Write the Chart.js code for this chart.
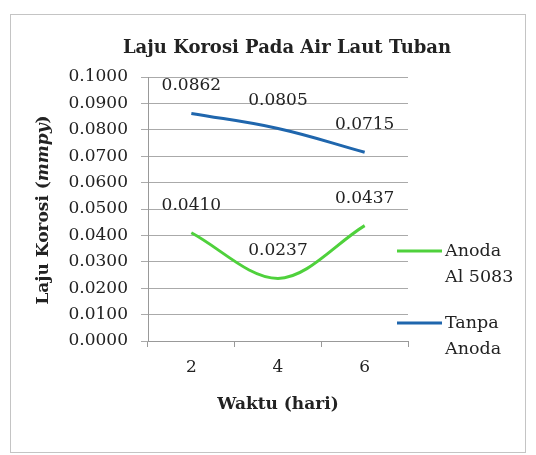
<!DOCTYPE html>
<html><head><meta charset="utf-8">
<script src="https://cdn.jsdelivr.net/npm/chart.js@4"></script>
<style>html,body{margin:0;padding:0;background:#fff;}#wrap{width:536px;height:455px;position:relative;}</style>
</head><body><div id="wrap"><canvas id="c" width="536" height="455"></canvas></div>
<script>
const categories = ['2', '4', '6'];
const anodaAl = [0.0410, 0.0237, 0.0437];
const tanpaAnoda = [0.0862, 0.0805, 0.0715];
const yTicks = [0, 0.01, 0.02, 0.03, 0.04, 0.05, 0.06, 0.07, 0.08, 0.09, 0.10];
const seriesNames = [['Anoda', 'Al 5083'], ['Tanpa', 'Anoda']];
const titleText = 'Laju Korosi Pada Air Laut Tuban';
const xTitle = 'Waktu (hari)';

const FONT = '"DejaVu Serif", "Liberation Serif", serif';
const GREEN = '#4fd13c', BLUE = '#1f66ad';

const deco = {
  id: 'deco',
  beforeDraw(chart) {
    const ctx = chart.ctx;
    ctx.save();
    ctx.strokeStyle = '#c4c4c4'; ctx.lineWidth = 1;
    ctx.strokeRect(10.5, 14.5, 515, 438);
    ctx.restore();
  },
  afterDraw(chart) {
    const ctx = chart.ctx;
    ctx.save();
    ctx.fillStyle = '#222';
    ctx.textAlign = 'center'; ctx.textBaseline = 'middle';
    ctx.font = 'bold 18px ' + FONT;
    ctx.fillText(titleText, 287, 48);
    ctx.font = 'bold 17px ' + FONT;
    ctx.fillText(xTitle, 278, 405);
    // y title
    ctx.translate(44, 210); ctx.rotate(-Math.PI / 2);
    const p1 = 'Laju Korosi (', p2 = 'mmpy', p3 = ')';
    ctx.font = 'bold 17px ' + FONT; const w1 = ctx.measureText(p1).width, w3 = ctx.measureText(p3).width;
    ctx.font = 'bold italic 17px ' + FONT; const w2 = ctx.measureText(p2).width;
    let x = -(w1 + w2 + w3) / 2; ctx.textAlign = 'left';
    ctx.font = 'bold 17px ' + FONT; ctx.fillText(p1, x, 0); x += w1;
    ctx.font = 'bold italic 17px ' + FONT; ctx.fillText(p2, x, 0); x += w2;
    ctx.font = 'bold 17px ' + FONT; ctx.fillText(p3, x, 0);
    ctx.restore();
    // data labels
    ctx.save();
    ctx.font = '17px ' + FONT; ctx.fillStyle = '#222';
    ctx.textAlign = 'center'; ctx.textBaseline = 'middle';
    chart.data.datasets.forEach((ds, i) => {
      chart.getDatasetMeta(i).data.forEach((pt, j) => {
        ctx.fillText(ds.data[j].toFixed(4), pt.x, pt.y - 27.5);
      });
    });
    // legend
    ctx.font = '17.5px ' + FONT;
    const leg = [[GREEN, 251], [BLUE, 323]];
    leg.forEach(([col, y], i) => {
      ctx.strokeStyle = col; ctx.lineWidth = 3;
      ctx.beginPath(); ctx.moveTo(397, y); ctx.lineTo(442, y); ctx.stroke();
      ctx.textAlign = 'left';
      ctx.fillText(seriesNames[i][0], 445, y);
      ctx.fillText(seriesNames[i][1], 445, y + 26);
    });
    ctx.restore();
  }
};

new Chart(document.getElementById('c'), {
  type: 'line',
  data: {
    labels: categories,
    datasets: [
      { label: seriesNames[0].join(' '), data: anodaAl, borderColor: GREEN, borderWidth: 3, pointRadius: 0, tension: 0.4, cubicInterpolationMode: 'monotone', fill: false },
      { label: seriesNames[1].join(' '), data: tanpaAnoda, borderColor: BLUE, borderWidth: 3, pointRadius: 0, tension: 0.4, fill: false }
    ]
  },
  options: {
    responsive: false, animation: false,
    layout: { padding: { left: 0, right: 128, top: 77, bottom: 0 } },
    plugins: { legend: { display: false }, title: { display: false }, tooltip: { enabled: false } },
    scales: {
      x: {
        offset: true,
        grid: { drawOnChartArea: false, drawTicks: true, tickLength: 6, offset: true, color: '#999' },
        border: { color: '#999' },
        ticks: { font: { family: FONT, size: 17 }, color: '#222', padding: 10 },
        afterFit(s) { s.height = 114; }
      },
      y: {
        min: 0, max: 0.1,
        afterBuildTicks(s) { s.ticks = yTicks.map(v => ({ value: v })); },
        grid: { color: '#aaa', tickLength: 7 },
        border: { color: '#999' },
        ticks: { font: { family: FONT, size: 17 }, color: '#222', padding: 13, callback: v => v.toFixed(4) },
        afterFit(s) { s.width = 148; }
      }
    }
  },
  plugins: [deco]
});
</script></body></html>
